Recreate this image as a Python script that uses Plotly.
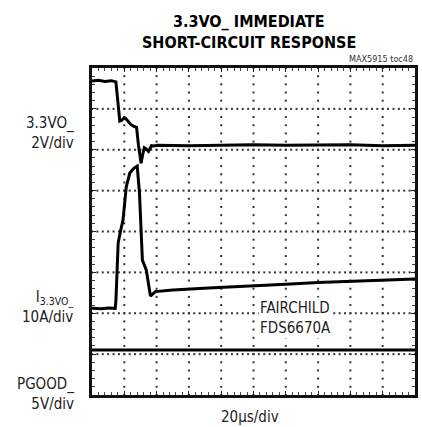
import plotly.graph_objects as go

# time axis in divisions (20us/div), amplitudes in divisions of the screen
t_vout = [0, 0.2, 0.4, 0.6, 0.74, 0.78, 0.82, 0.86, 0.92, 1.0, 1.05, 1.12, 1.2, 1.28, 1.38,
          1.44, 1.48, 1.52, 1.56, 1.62, 1.68, 1.75, 1.84, 1.92, 2.0, 3, 4, 5, 6, 7, 8, 9, 10]
v_vout = [7.68, 7.70, 7.67, 7.69, 7.66, 7.30, 6.90, 6.70, 6.72, 6.78, 6.76, 6.68, 6.62, 6.58, 6.55,
          6.10, 5.80, 5.67, 5.85, 6.05, 6.02, 5.96, 6.10, 6.09, 6.11, 6.10, 6.11, 6.12, 6.11, 6.12, 6.12, 6.10, 6.11]

t_iout = [0, 0.3, 0.5, 0.72, 0.74, 0.78, 0.81, 0.88, 0.96, 1.06, 1.17, 1.30, 1.40, 1.47, 1.56,
          1.68, 1.81, 1.96, 2.5, 3.6, 4.85, 6, 7, 8, 9, 10]
v_iout = [2.12, 2.11, 2.13, 2.12, 2.30, 3.30, 3.72, 4.00, 4.28, 5.09, 5.43, 5.55, 5.60, 4.94, 3.30,
          3.06, 2.42, 2.53, 2.57, 2.62, 2.66, 2.71, 2.75, 2.78, 2.81, 2.84]

t_pgood = [0, 2, 4, 6, 8, 10]
v_pgood = [1.10, 1.10, 1.11, 1.10, 1.11, 1.10]

x_divs = 10
y_divs = 8

FONT = "Liberation Sans Narrow, DejaVu Sans Condensed, Arial Narrow, sans-serif"

fig = go.Figure()

# oscilloscope graticule: dotted division lines
gx, gy = [], []
for k in range(1, x_divs):
    for j in range(0, y_divs * 5 + 1):
        gx.append(k)
        gy.append(j / 5)
for k in range(1, y_divs):
    for j in range(0, x_divs * 6 + 1):
        gx.append(j / 6)
        gy.append(k)
fig.add_trace(go.Scatter(x=gx, y=gy, mode="markers",
                         marker=dict(symbol="square", size=2, color="#333", line=dict(width=0)),
                         showlegend=False, hoverinfo="skip"))

for tx, vy in [(t_vout, v_vout), (t_iout, v_iout), (t_pgood, v_pgood)]:
    fig.add_trace(go.Scatter(x=tx, y=vy, mode="lines",
                             line=dict(color="black", width=3), showlegend=False,
                             hoverinfo="skip"))

axis_common = dict(showline=True, linecolor="#111", linewidth=3, mirror="allticks",
                   ticks="inside", ticklen=4, tickcolor="#222", tickwidth=1,
                   showticklabels=False, zeroline=False, fixedrange=True,
                   showgrid=False, dtick=1, tick0=0,
                   minor=dict(dtick=0.2, ticks="inside", ticklen=3, tickcolor="#444",
                              tickwidth=1, showgrid=False))

fig.update_layout(
    width=422, height=427,
    margin=dict(l=92, r=4, t=68, b=32),
    paper_bgcolor="white", plot_bgcolor="white",
    xaxis=dict(range=[0, x_divs], **axis_common),
    yaxis=dict(range=[0, y_divs], **axis_common),
    font=dict(family=FONT, color="#222"),
)

anns = [
    dict(text="<b>3.3VO_ IMMEDIATE</b>", xref="paper", yref="paper", x=0.485, y=1.1437,
         font=dict(size=16, color="black")),
    dict(text="<b>SHORT-CIRCUIT RESPONSE</b>", xref="paper", yref="paper", x=0.485, y=1.0765,
         font=dict(size=16, color="black")),
    dict(text="MAX5915 toc48", xref="paper", yref="paper", x=1.0, y=1.0275, xanchor="right",
         font=dict(size=9, color="#333")),
    dict(text="3.3VO_<br>2V/div", xref="paper", yref="y", x=0, xshift=-16, y=6.42,
         xanchor="right", align="right", font=dict(size=15)),
    dict(text="I<sub>3.3VO_</sub><br>10A/div", xref="paper", yref="y", x=0, xshift=-16, y=2.16,
         xanchor="right", align="right", font=dict(size=15)),
    dict(text="PGOOD_<br>5V/div", xref="paper", yref="y", x=0, xshift=-16, y=0.02,
         xanchor="right", align="right", font=dict(size=15)),
    dict(text="FAIRCHILD<br>FDS6670A", xref="x", yref="y", x=5.15, y=1.89,
         xanchor="left", align="left", bgcolor="white", font=dict(size=15)),
    dict(text="20µs/div", xref="paper", yref="paper", x=0.49, y=-0.067,
         font=dict(size=15)),
]
for a in anns:
    a.setdefault("showarrow", False)
    a.setdefault("yanchor", "middle")
    fig.add_annotation(**a)

fig.write_html("out.html", config={"displayModeBar": False},
               post_script="document.body.style.margin='0';")
